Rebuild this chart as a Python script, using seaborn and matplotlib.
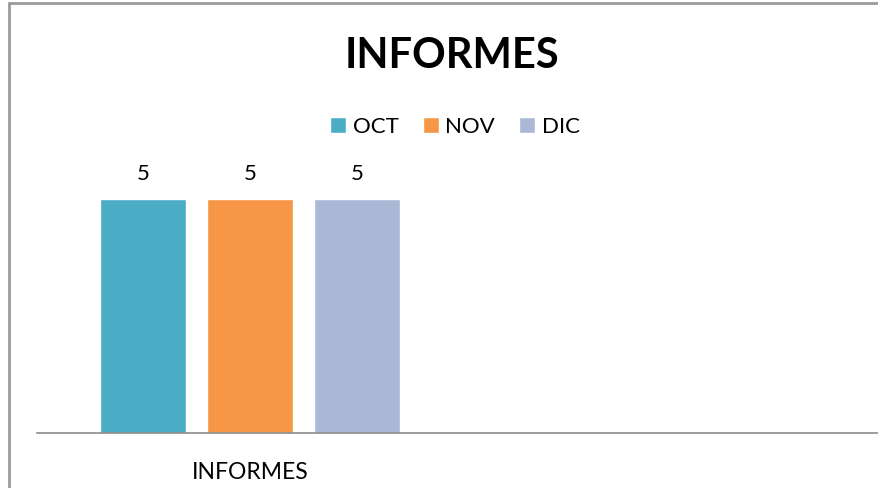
import pandas as pd
import matplotlib.pyplot as plt
import seaborn as sns
from matplotlib.patches import Rectangle

# Data
categories = ['INFORMES']
months = ['OCT', 'NOV', 'DIC']
values = [5, 5, 5]
colors = ['#4BACC6', '#F79646', '#ABB9D6']

df = pd.DataFrame({'categoria': categories * len(months), 'mes': months, 'valor': values})

sns.set_theme(style='white')
plt.rcParams['font.family'] = ['Lato', 'DejaVu Sans']
plt.rcParams['text.color'] = 'black'

W, H = 879, 488
fig = plt.figure(figsize=(W / 100, H / 100), dpi=100)

# plot area in pixel terms, axis line at y=433
ax = fig.add_axes([37 / W, (H - 433) / H, (W - 37) / W, 281 / H])

sns.barplot(data=df, x='categoria', y='valor', hue='mes', palette=colors,
            width=0.8, gap=0.2, saturation=1, ax=ax, legend=True)

ax.set_xlim(-0.531, 1.568)
ax.set_ylim(0, 6)
ax.set_xlabel('')
ax.set_ylabel('')
ax.set_yticks([])
sns.despine(ax=ax, left=True, top=True, right=True)
ax.spines['bottom'].set_color('#8c8c8c')
ax.spines['bottom'].set_linewidth(1.2)
ax.tick_params(axis='x', length=0, pad=21, labelsize=16.5, labelcolor='black')

for cont in ax.containers:
    ax.bar_label(cont, padding=11, fontsize=16, color='black')

# legend on top, under the title
handles, labels = ax.get_legend_handles_labels()
ax.legend(handles, labels, loc='center', bbox_to_anchor=(455 / W, 1 - 127 / H),
          bbox_transform=fig.transFigure, ncol=3, frameon=False, fontsize=16,
          labelcolor='black', handlelength=0.7, handleheight=0.7,
          handletextpad=0.3, columnspacing=1.1)

fig.text(452 / W, 1 - 56 / H, 'INFORMES', ha='center', va='center',
         fontsize=30, fontweight='bold', color='black')

# chart border, cut off on the right and bottom like the reference
fig.patches.append(Rectangle((9 / W, -0.1), 1.2, 1 - 3 / H + 0.1,
                             transform=fig.transFigure, fill=False,
                             edgecolor='#9a9a9a', linewidth=2))

fig.savefig('out.png', dpi=100)
